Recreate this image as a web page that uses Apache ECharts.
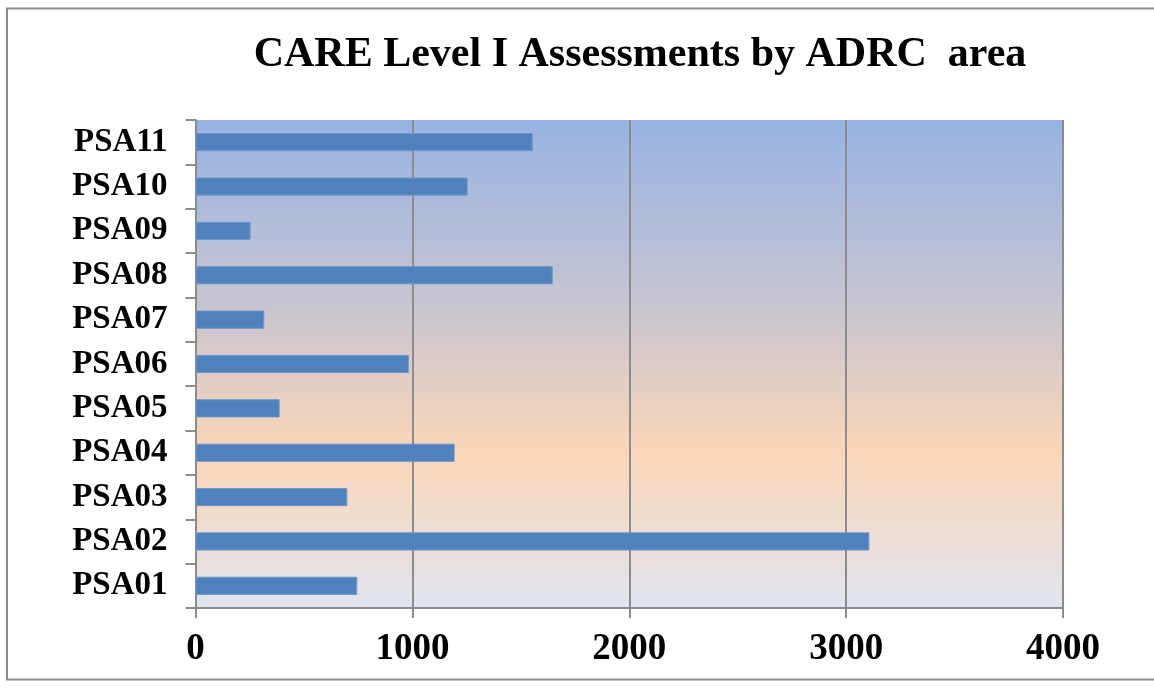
<!DOCTYPE html>
<html>
<head>
<meta charset="utf-8">
<script src="https://cdn.jsdelivr.net/npm/echarts@6/dist/echarts.min.js"></script>
<style>html,body{margin:0;padding:0;background:#fff}#c{width:1154px;height:689px}</style>
</head>
<body>
<div id="c"></div>
<script>
const categories = ['PSA01','PSA02','PSA03','PSA04','PSA05','PSA06','PSA07','PSA08','PSA09','PSA10','PSA11'];
const values = [746, 3107, 700, 1195, 388, 984, 317, 1647, 254, 1255, 1555];
const xTicks = [0, 1000, 2000, 3000, 4000];

const chart = echarts.init(document.getElementById('c'));
const serif = 'Liberation Serif, Times New Roman, serif';
chart.setOption({
  animation: false,
  backgroundColor: '#fff',
  title: {
    text: 'CARE Level I Assessments by ADRC  area',
    left: 635, top: 29, textAlign: 'center',
    textStyle: {fontFamily: serif, fontWeight: 'bold', fontSize: 42, color: '#000'}
  },
  graphic: [{
    type: 'rect', silent: true, z: -1,
    shape: {x: 7, y: 8.5, width: 1170, height: 671},
    style: {fill: 'none', stroke: '#8c8c8c', lineWidth: 2}
  }],
  grid: {
    left: 195.5, right: 91, top: 120, bottom: 81,
    show: true, borderWidth: 0,
    backgroundColor: {
      type: 'linear', x: 0, y: 0, x2: 0, y2: 1,
      colorStops: [
        {offset: 0, color: '#97b3e3'},
        {offset: 0.35, color: '#c3c3d3'},
        {offset: 0.68, color: '#fad6b7'},
        {offset: 1, color: '#e1e5f0'}
      ]
    }
  },
  xAxis: {
    type: 'value', min: xTicks[0], max: xTicks[xTicks.length - 1], interval: 1000,
    axisLine: {show: true, lineStyle: {color: '#8c8c8c', width: 2}},
    axisTick: {show: true, length: 10, lineStyle: {color: '#8c8c8c', width: 2}},
    splitLine: {show: true, lineStyle: {color: '#8c8c8c', width: 2}},
    axisLabel: {fontFamily: serif, fontWeight: 'bold', fontSize: 37, color: '#000', margin: 23,
      formatter: v => String(v)}
  },
  yAxis: {
    type: 'category', data: categories,
    axisLine: {show: true, lineStyle: {color: '#8c8c8c', width: 2}},
    axisTick: {show: true, length: 10, lineStyle: {color: '#8c8c8c', width: 2}},
    axisLabel: {fontFamily: serif, fontWeight: 'bold', fontSize: 33, color: '#000', margin: 28}
  },
  series: [{
    type: 'bar', data: values, barWidth: '41%',
    itemStyle: {color: '#4f81bd', borderColor: '#7196c9', borderWidth: 1}
  }]
});
</script>
</body>
</html>
